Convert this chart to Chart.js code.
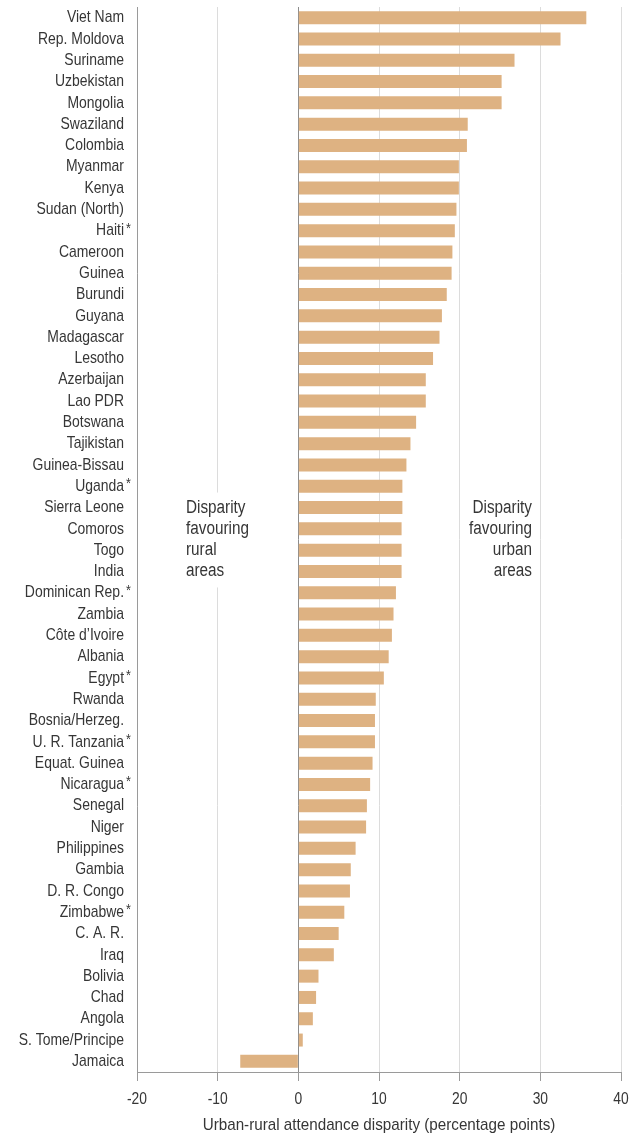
<!DOCTYPE html>
<html>
<head>
<meta charset="utf-8">
<script src="https://cdn.jsdelivr.net/npm/chart.js@4.4.1/dist/chart.umd.min.js"></script>
<style>
  html, body { margin: 0; padding: 0; background: #ffffff; }
  #wrap { width: 637px; height: 1138px; position: relative; }
</style>
</head>
<body>
<div id="wrap"><canvas id="chart"></canvas></div>
<script>
// Countries, ordered from largest to smallest urban-rural gap; "*" flags a footnoted country
const categories = [
  'Viet Nam', 'Rep. Moldova', 'Suriname', 'Uzbekistan', 'Mongolia', 'Swaziland',
  'Colombia', 'Myanmar', 'Kenya', 'Sudan (North)', 'Haiti *', 'Cameroon', 'Guinea',
  'Burundi', 'Guyana', 'Madagascar', 'Lesotho', 'Azerbaijan', 'Lao PDR', 'Botswana',
  'Tajikistan', 'Guinea-Bissau', 'Uganda *', 'Sierra Leone', 'Comoros', 'Togo', 'India',
  'Dominican Rep. *', 'Zambia', 'Côte d\u2019Ivoire', 'Albania', 'Egypt *', 'Rwanda',
  'Bosnia/Herzeg.', 'U. R. Tanzania*', 'Equat. Guinea', 'Nicaragua *', 'Senegal', 'Niger',
  'Philippines', 'Gambia', 'D. R. Congo', 'Zimbabwe *', 'C. A. R.', 'Iraq', 'Bolivia',
  'Chad', 'Angola', 'S. Tome/Principe', 'Jamaica'
];

// Urban minus rural attendance, percentage points
const disparity = [
  35.7, 32.5, 26.8, 25.2, 25.2, 21.0,
  20.9, 19.9, 19.9, 19.6, 19.4, 19.1, 19.0,
  18.4, 17.8, 17.5, 16.7, 15.8, 15.8, 14.6,
  13.9, 13.4, 12.9, 12.9, 12.8, 12.8, 12.8,
  12.1, 11.8, 11.6, 11.2, 10.6, 9.6,
  9.5, 9.5, 9.2, 8.9, 8.5, 8.4,
  7.1, 6.5, 6.4, 5.7, 5.0, 4.4, 2.5,
  2.2, 1.8, 0.55, -7.2
];

const xTicks = [-20, -10, 0, 10, 20, 30, 40];

const ruralNote = ['Disparity', 'favouring', 'rural', 'areas'];
const urbanNote = ['Disparity', 'favouring', 'urban', 'areas'];
const xTitle = 'Urban-rural attendance disparity (percentage points)';

const FONT = '"Liberation Sans", Arial, Helvetica, sans-serif';
const TEXT = '#363636';

// Narrow lettering: draw the text squeezed horizontally around its anchor
function narrowText(ctx, text, x, y, align, size, squeeze) {
  ctx.save();
  ctx.font = size + 'px ' + FONT;
  ctx.fillStyle = TEXT;
  ctx.textAlign = align;
  ctx.textBaseline = 'middle';
  ctx.translate(x, y);
  ctx.scale(squeeze, 1);
  ctx.fillText(text, 0, 0);
  ctx.restore();
}

// Country names, right-aligned, with the footnote star hanging past the edge
const countryLabels = {
  id: 'countryLabels',
  afterDraw(chart) {
    const { ctx } = chart;
    const y = chart.scales.y;
    const xRight = 124;
    categories.forEach((name, i) => {
      const py = y.getPixelForValue(i);
      const starred = name.endsWith('*');
      const base = starred ? name.replace(/\s*\*$/, '') : name;
      narrowText(ctx, base, xRight, py, 'right', 17, 0.82);
      if (starred) narrowText(ctx, '*', xRight + 2, py - 2, 'left', 14, 0.9);
    });
  }
};

// Value labels under the x axis and the axis title
const xAxisText = {
  id: 'xAxisText',
  afterDraw(chart) {
    const x = chart.scales.x;
    const { ctx } = chart;
    xTicks.forEach(v => {
      narrowText(ctx, String(v), x.getPixelForValue(v), 1099, 'center', 16.5, 0.84);
    });
    narrowText(ctx, xTitle, (x.left + x.right) / 2, 1125, 'center', 17, 0.895);
  }
};

// Side notes explaining the direction of the gap
const sideNotes = {
  id: 'sideNotes',
  beforeDatasetsDraw(chart) {
    const { ctx } = chart;
    const y = chart.scales.y;
    const top = y.getPixelForValue(23) - 15;
    const bottom = y.getPixelForValue(26) + 16;
    ctx.save();
    ctx.fillStyle = '#ffffff';
    ctx.fillRect(182, top, 72, bottom - top);
    ctx.restore();
  },
  afterDraw(chart) {
    const { ctx } = chart;
    const y = chart.scales.y;
    ruralNote.forEach((line, i) => {
      narrowText(ctx, line, 186, y.getPixelForValue(23 + i), 'left', 18, 0.85);
    });
    urbanNote.forEach((line, i) => {
      narrowText(ctx, line, 532, y.getPixelForValue(23 + i), 'right', 18, 0.85);
    });
  }
};

new Chart(document.getElementById('chart'), {
  type: 'bar',
  data: {
    labels: categories,
    datasets: [{
      data: disparity,
      backgroundColor: '#deb282',
      borderWidth: 0,
      categoryPercentage: 1,
      barPercentage: 0.61
    }]
  },
  options: {
    indexAxis: 'y',
    responsive: true,
    maintainAspectRatio: false,
    animation: false,
    layout: { padding: { top: 7, right: 16, left: 0, bottom: 0 } },
    plugins: {
      legend: { display: false },
      tooltip: { enabled: false }
    },
    scales: {
      x: {
        type: 'linear',
        min: -20,
        max: 40,
        afterBuildTicks(scale) {
          scale.ticks = xTicks.map(v => ({ value: v }));
        },
        afterFit(scale) { scale.height = 66; },
        ticks: { display: false },
        grid: {
          color: ctx => (ctx.tick && ctx.tick.value === 0) ? '#8c8c8c' : '#dcdcdc',
          lineWidth: 1,
          drawTicks: true,
          tickLength: 9,
          tickColor: '#9a9a9a'
        },
        border: { display: true, color: '#9a9a9a', width: 1 }
      },
      y: {
        type: 'category',
        afterFit(scale) { scale.width = 137; },
        ticks: { display: false },
        grid: { display: false },
        border: { display: true, color: '#9a9a9a', width: 1 }
      }
    }
  },
  plugins: [sideNotes, countryLabels, xAxisText]
});
</script>
</body>
</html>
